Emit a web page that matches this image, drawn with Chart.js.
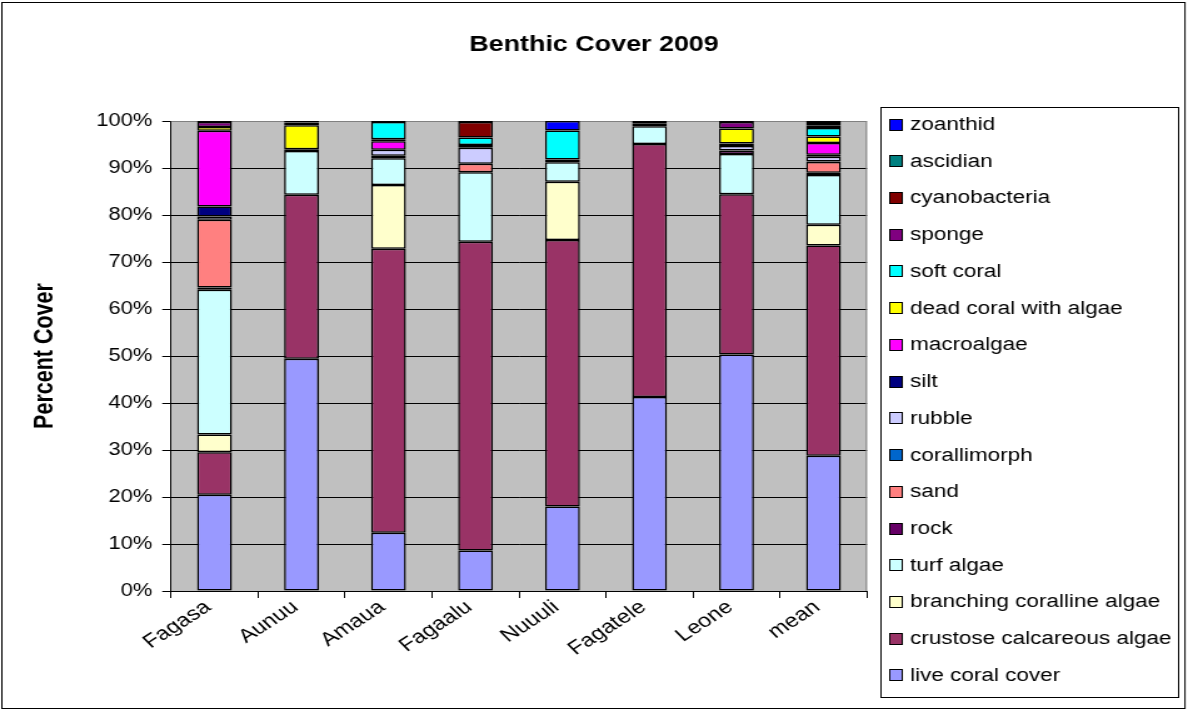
<!DOCTYPE html>
<html>
<head>
<meta charset="utf-8">
<script src="https://cdn.jsdelivr.net/npm/chart.js@4/dist/chart.umd.min.js"></script>
<style>
  html, body { margin: 0; padding: 0; background: #fff; overflow: hidden; }
  #wrap { width: 950px; height: 712px; transform-origin: 0 0; transform: scaleX(1.2505263); }
  #c { display: block; }
</style>
</head>
<body>
<div id="wrap"><canvas id="c" width="950" height="712"></canvas></div>
<script>
// Survey sites (last column is the mean of all sites)
const sites = ['Fagasa', 'Aunuu', 'Amaua', 'Fagaalu', 'Nuuuli', 'Fagatele', 'Leone', 'mean'];

// Percent cover per benthic category, one value per site
const liveCoral    = [20.5, 49.4, 12.4,  8.6, 18.0, 41.3, 50.3, 28.8];
const crustose     = [ 9.0, 34.9, 60.4, 65.7, 56.7, 53.8, 34.1, 44.7];
const branching    = [ 3.8,  0.0, 13.6,  0.0, 12.4,  0.0,  0.0,  4.4];
const turf         = [30.8,  9.3,  5.7, 14.8,  4.1,  3.8,  8.6, 10.6];
const rock         = [ 0.5,  0.4,  0.5,  0.0,  0.0,  0.0,  0.7,  0.5];
const sand         = [14.4,  0.0,  0.0,  1.8,  0.0,  0.0,  0.0,  2.3];
const corallimorph = [ 0.0,  0.0,  0.0,  0.0,  0.0,  0.0,  0.0,  0.1];
const rubble       = [ 0.7,  0.0,  1.3,  3.4,  0.0,  0.0,  1.0,  1.0];
const silt         = [ 2.1,  0.0,  0.0,  0.0,  0.6,  0.0,  0.5,  0.4];
const macroalgae   = [16.1,  0.0,  1.8,  0.0,  0.0,  0.0,  0.0,  2.5];
const deadCoral    = [ 0.8,  5.1,  0.4,  0.6,  0.0,  0.0,  3.2,  1.4];
const softCoral    = [ 0.0,  0.6,  3.7,  1.6,  6.2,  0.0,  0.0,  1.8];
const sponge       = [ 1.1,  0.3,  0.2,  0.0,  0.0,  0.6,  1.4,  0.5];
const cyano        = [ 0.2,  0.0,  0.0,  3.3,  0.0,  0.5,  0.2,  0.6];
const ascidian     = [ 0.0,  0.0,  0.0,  0.0,  0.0,  0.0,  0.0,  0.0];
const zoanthid     = [ 0.0,  0.0,  0.0,  0.2,  2.0,  0.0,  0.0,  0.4];

// Y axis tick values
const yTicks = [0, 10, 20, 30, 40, 50, 60, 70, 80, 90, 100];

// Stack order, bottom to top
const series = [
  ['live coral cover',          liveCoral,    '#9999FF'],
  ['crustose calcareous algae', crustose,     '#993366'],
  ['branching coralline algae', branching,    '#FFFFCC'],
  ['turf algae',                turf,         '#CCFFFF'],
  ['rock',                      rock,         '#660066'],
  ['sand',                      sand,         '#FF8080'],
  ['corallimorph',              corallimorph, '#0066CC'],
  ['rubble',                    rubble,       '#CCCCFF'],
  ['silt',                      silt,         '#000080'],
  ['macroalgae',                macroalgae,   '#FF00FF'],
  ['dead coral with algae',     deadCoral,    '#FFFF00'],
  ['soft coral',                softCoral,    '#00FFFF'],
  ['sponge',                    sponge,       '#800080'],
  ['cyanobacteria',             cyano,        '#800000'],
  ['ascidian',                  ascidian,     '#008080'],
  ['zoanthid',                  zoanthid,     '#0000FF']
];

const TITLE = 'Benthic Cover 2009';
const FONT = '"Liberation Sans", Arial, sans-serif';
Chart.defaults.font.family = FONT;
Chart.defaults.color = '#000';

// Canvas is drawn narrow and widened by the wrapper's transform, giving wide lettering
const canvas = document.getElementById('c');
const SX = 1188 / canvas.width;
const px = v => v / SX;   // page x -> canvas x

const PLOT_LEFT = px(171), PLOT_RIGHT = px(867);
const PLOT_TOP = 121, PLOT_BOTTOM = 591;

const frame = {
  id: 'frame',
  beforeDraw(chart) {
    const ctx = chart.ctx, a = chart.chartArea;
    ctx.save();
    ctx.fillStyle = '#fff';
    ctx.fillRect(0, 0, chart.width, chart.height);
    ctx.fillStyle = '#C0C0C0';
    ctx.fillRect(a.left, a.top, a.right - a.left, a.bottom - a.top);
    ctx.restore();
  },
  beforeDatasetsDraw(chart) {
    const ctx = chart.ctx, a = chart.chartArea;
    ctx.save();
    ctx.strokeStyle = '#808080';
    ctx.lineWidth = 1;
    ctx.beginPath();
    ctx.moveTo(a.left, a.top + 0.5);
    ctx.lineTo(a.right - 0.5, a.top + 0.5);
    ctx.lineTo(a.right - 0.5, a.bottom);
    ctx.stroke();
    ctx.restore();
  },
  afterDraw(chart) {
    const ctx = chart.ctx;
    ctx.save();
    // outer border
    ctx.strokeStyle = '#000';
    ctx.lineWidth = 1;
    ctx.strokeRect(1.5, 2.5, px(1185) - 1.5, 706);

    // chart title, centred on the whole canvas
    ctx.fillStyle = '#000';
    ctx.font = 'bold 21.5px ' + FONT;
    ctx.textAlign = 'center';
    ctx.textBaseline = 'middle';
    ctx.fillText(TITLE, chart.width / 2, 45);

    // legend box, items listed top to bottom in reverse stack order
    const lx0 = px(880), lx1 = px(1178);
    ctx.strokeRect(Math.round(lx0) + 0.5, 107.5, Math.round(lx1 - lx0), 590);
    const ds = chart.data.datasets;
    ctx.font = '18px ' + FONT;
    ctx.textAlign = 'left';
    for (let i = 0; i < ds.length; i++) {
      const d = ds[ds.length - 1 - i];
      const cy = 124 + i * 36.73;
      const sx = Math.round(px(889)) + 0.5;
      ctx.fillStyle = d.backgroundColor;
      ctx.fillRect(sx, Math.round(cy - 5.5) + 0.5, 10, 11);
      ctx.strokeStyle = '#000';
      ctx.strokeRect(sx, Math.round(cy - 5.5) + 0.5, 10, 11);
      ctx.fillStyle = '#000';
      ctx.fillText(d.label, px(910), cy + 1);
    }
    ctx.restore();
  }
};

new Chart(canvas, {
  type: 'bar',
  data: {
    labels: sites,
    datasets: series.map(([label, data, color]) => ({
      label,
      data,
      backgroundColor: color,
      borderColor: '#000',
      borderWidth: 1.5,
      borderSkipped: false,
      barPercentage: 0.4,
      categoryPercentage: 1.0
    }))
  },
  options: {
    responsive: false,
    animation: false,
    devicePixelRatio: 1,
    layout: { padding: { left: 0, right: canvas.width - PLOT_RIGHT, top: PLOT_TOP, bottom: 0 } },
    plugins: {
      legend: { display: false },
      tooltip: { enabled: false },
      title: { display: false }
    },
    scales: {
      x: {
        stacked: true,
        afterFit(scale) { scale.height = 712 - PLOT_BOTTOM; },
        grid: {
          offset: true,
          drawOnChartArea: false,
          drawTicks: true,
          tickLength: 7,
          color: '#000',
          tickColor: '#000'
        },
        border: { display: true, color: '#000', width: 1 },
        ticks: {
          autoSkip: false,
          maxRotation: 39,
          minRotation: 39,
          padding: -2,
          labelOffset: -5,
          color: '#000',
          font: { size: 19, family: FONT }
        }
      },
      y: {
        stacked: true,
        min: 0,
        max: 100,
        afterFit(scale) { scale.width = PLOT_LEFT; },
        afterBuildTicks(scale) { scale.ticks = yTicks.map(v => ({ value: v })); },
        grid: {
          color: ctx => (ctx.tick && ctx.tick.value === 100 ? '#808080' : '#000'),
          tickColor: '#000',
          lineWidth: 1,
          drawTicks: true,
          tickLength: 7
        },
        border: { display: true, color: '#000', width: 1 },
        ticks: {
          padding: 8,
          color: '#000',
          font: { size: 17.5, family: FONT },
          callback: v => v + '%'
        },
        title: {
          display: true,
          text: 'Percent Cover',
          color: '#000',
          font: { size: 21.5, weight: 'bold', family: FONT },
          padding: { top: 23, bottom: 0 }
        }
      }
    }
  },
  plugins: [frame]
});
</script>
</body>
</html>
